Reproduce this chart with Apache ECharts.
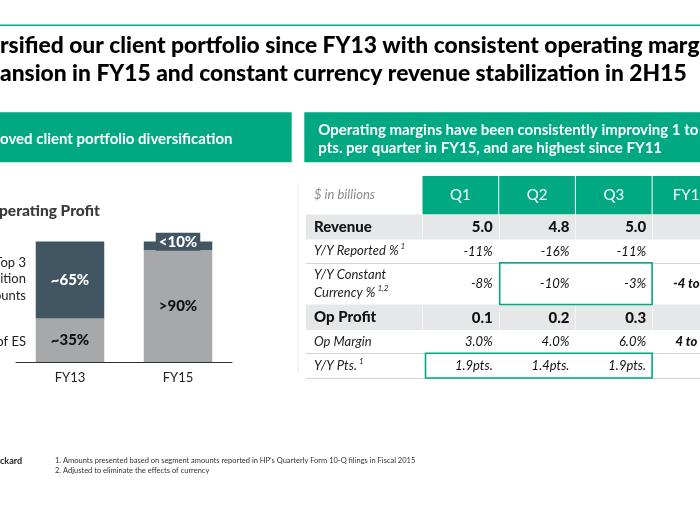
<!DOCTYPE html>
<html><head><meta charset="utf-8">
<script src="https://cdn.jsdelivr.net/npm/echarts@6/dist/echarts.min.js"></script>
<style>html,body{margin:0;padding:0;background:#fff}#c{width:700px;height:525px}</style>
</head><body><div id="c"></div>
<script>
// ---------- data ----------
const barCategories = ['FY13', 'FY15'];
const restOfESShare = [36, 93];
const top3Share = [64, 7];
const restOfESLabels = ['~35%', '>90%'];
const top3Labels = ['~65%', '<10%'];
const segmentNames = ['Top 3\nsition\nounts', 'of ES'];

const tableColumns = ['Q1', 'Q2', 'Q3', 'FY15'];
const tableRowLabels = ['$ in billions', 'Revenue', 'Y/Y Reported %', 'Y/Y Constant\nCurrency %', 'Op Profit', 'Op Margin', 'Y/Y Pts.'];
const rowFootnotes = ['', '', '1', '1,2', '', '', '1'];
const revenue = ['5.0', '4.8', '5.0', ''];
const yyReported = ['-11%', '-16%', '-11%', ''];
const yyConstantCurrency = ['-8%', '-10%', '-3%', '-4 to'];
const opProfit = ['0.1', '0.2', '0.3', ''];
const opMargin = ['3.0%', '4.0%', '6.0%', '4 to'];
const yyPts = ['1.9pts.', '1.4pts.', '1.9pts.', ''];
const tableBody = [null, revenue, yyReported, yyConstantCurrency, opProfit, opMargin, yyPts];
const highlightedCells = [[3, 1, 2], [6, 0, 2]]; // row, first column, last column

// ---------- layout / style ----------
const FONT = 'Lato';
const TEAL = '#01a982';
const SLATE = '#425563';
const BARGRAY = '#a7a8aa';
const ROWGRAY = '#e6e7e8';
const ROW_EDGES = [0, 38.5, 63.5, 86.7, 128.5, 154, 177.3, 202];
const ROW_KIND = ['header', 'bold', 'italic', 'italic', 'bold', 'italic', 'italic'];
const LABEL_COL = 116;

const chart = echarts.init(document.getElementById('c'), null, { renderer: 'canvas' });

function rowRender(params, api) {
  const i = params.dataIndex;
  const cs = params.coordSys;
  const bw = api.size([1, 0])[0];
  const top = api.coord([0, ROW_EDGES[i]])[1];
  const bot = api.coord([0, ROW_EDGES[i + 1]])[1];
  const left = cs.x - LABEL_COL;
  const right = cs.x + cs.width;
  const kind = ROW_KIND[i];
  const ch = [];
  if (kind === 'bold') {
    ch.push({ type: 'rect', shape: { x: left, y: top, width: right - left, height: bot - top }, style: { fill: ROWGRAY } });
    for (let c = 0; c < tableColumns.length; c++) {
      const x = Math.round(cs.x + c * bw) + 0.5;
      ch.push({ type: 'line', shape: { x1: x, y1: top, x2: x, y2: bot }, style: { stroke: '#f4f4f4', lineWidth: 1 } });
    }
  }
  if (kind === 'header') {
    for (let c = 0; c < tableColumns.length; c++) {
      const x0 = cs.x + c * bw;
      ch.push({ type: 'rect', shape: { x: x0 + 0.5, y: top, width: bw - 1, height: bot - top }, style: { fill: TEAL } });
      ch.push({ type: 'text', x: x0 + bw / 2, y: (top + bot) / 2, style: { text: tableColumns[c], fill: '#fff', font: '15px ' + FONT, align: 'center', verticalAlign: 'middle' } });
    }
  }
  const next = ROW_KIND[i + 1];
  if (kind === 'italic' && next !== 'bold') {
    ch.push({ type: 'line', shape: { x1: left, y1: Math.round(bot) + 0.5, x2: right, y2: Math.round(bot) + 0.5 }, style: { stroke: '#d4d4d4', lineWidth: 1 } });
  }
  const lbl = tableRowLabels[i];
  let text;
  if (kind === 'header') {
    text = '{h|' + lbl + '}';
  } else if (kind === 'bold') {
    text = '{b|' + lbl + '}';
  } else {
    const lines = lbl.split('\n');
    text = lines.map((l, k) => '{i|' + l + '}' + (k === lines.length - 1 && rowFootnotes[i] ? '{s|' + rowFootnotes[i] + '}' : '')).join('\n');
  }
  ch.push({
    type: 'text', x: cs.x - 108, y: (top + bot) / 2,
    style: {
      text: text, align: 'left', verticalAlign: 'middle',
      rich: {
        h: { font: 'italic 13px ' + FONT, fill: '#8a8a8a' },
        b: { font: '900 15px ' + FONT, fill: '#111' },
        i: { font: 'italic 13px ' + FONT, fill: '#222', lineHeight: 18 },
        s: { font: 'italic 8px ' + FONT, fill: '#222', padding: [0, 0, 9, 2], lineHeight: 18 }
      }
    }
  });
  return { type: 'group', children: ch };
}

function cellRender(params, api) {
  const c = api.value(0);
  const r = api.value(1);
  const bw = api.size([1, 0])[0];
  const cx = api.coord([c, 0])[0];
  const top = api.coord([0, ROW_EDGES[r]])[1];
  const bot = api.coord([0, ROW_EDGES[r + 1]])[1];
  const kind = ROW_KIND[r];
  const txt = tableBody[r][c];
  const last = c === tableColumns.length - 1;
  return {
    type: 'text', x: last ? cx - 4 : cx + bw / 2 - 6, y: (top + bot) / 2 + 0.5,
    style: {
      text: txt, align: last ? 'center' : 'right', verticalAlign: 'middle',
      font: last ? 'italic 900 13px ' + FONT : (kind === 'bold' ? '900 15px ' + FONT : 'italic 13px ' + FONT),
      fill: '#111'
    }
  };
}

function boxRender(params, api) {
  const d = highlightedCells[params.dataIndex];
  const bw = api.size([1, 0])[0];
  const x0 = api.coord([d[1], 0])[0] - bw / 2;
  const x1 = api.coord([d[2], 0])[0] + bw / 2;
  const top = api.coord([0, ROW_EDGES[d[0]]])[1];
  const bot = api.coord([0, ROW_EDGES[d[0] + 1]])[1];
  const inset = d[1] === 0 ? 3.5 : 1;
  return { type: 'rect', shape: { x: x0 + inset, y: top, width: x1 - x0 - inset, height: bot - top }, style: { fill: null, stroke: TEAL, lineWidth: 1.6 } };
}

const cellData = [];
for (let r = 1; r < tableBody.length; r++) for (let c = 0; c < tableColumns.length; c++) cellData.push([c, r]);

const option = {
  backgroundColor: '#fff',
  animation: false,
  textStyle: { fontFamily: FONT },
  grid: [
    { left: 16, top: 241.5, width: 216, height: 120.5, outerBoundsMode: 'none', containLabel: false },
    { left: 422, top: 176, width: 306.8, height: 202, outerBoundsMode: 'none', containLabel: false }
  ],
  xAxis: [
    { gridIndex: 0, type: 'category', data: barCategories,
      axisLine: { lineStyle: { color: '#333', width: 1 } }, axisTick: { show: false },
      axisLabel: { color: '#222', fontSize: 13, margin: 9, fontFamily: FONT } },
    { gridIndex: 1, type: 'category', data: tableColumns, show: false }
  ],
  yAxis: [
    { gridIndex: 0, type: 'value', min: 0, max: 100, show: false },
    { gridIndex: 1, type: 'value', min: 0, max: 202, inverse: true, show: false }
  ],
  series: [
    { name: segmentNames[1], type: 'bar', stack: 'p', xAxisIndex: 0, yAxisIndex: 0, barWidth: 68.5,
      data: restOfESShare, itemStyle: { color: BARGRAY },
      label: { show: true, position: 'inside', formatter: p => restOfESLabels[p.dataIndex], color: '#111', fontWeight: 900, fontSize: 15, fontFamily: FONT } },
    { name: segmentNames[0], type: 'bar', stack: 'p', xAxisIndex: 0, yAxisIndex: 0, barWidth: 68.5,
      data: top3Share.map((v, i) => ({
        value: v,
        label: i === 1 ? { backgroundColor: SLATE, padding: [2, 3, 1, 3], offset: [0, -4] } : {}
      })),
      itemStyle: { color: SLATE },
      label: { show: true, position: 'inside', formatter: p => top3Labels[p.dataIndex], color: '#fff', fontWeight: 900, fontSize: 15, fontFamily: FONT } },
    { type: 'custom', xAxisIndex: 1, yAxisIndex: 1, clip: false, renderItem: rowRender, data: tableRowLabels.map((l, i) => [0, i]), z: 1 },
    { type: 'custom', xAxisIndex: 1, yAxisIndex: 1, clip: false, renderItem: cellRender, data: cellData, z: 2 },
    { type: 'custom', xAxisIndex: 1, yAxisIndex: 1, clip: false, renderItem: boxRender, data: highlightedCells.map(d => [d[1], d[0]]), z: 3 }
  ],
  graphic: [
    { type: 'rect', shape: { x: 0, y: 24.5, width: 700, height: 1.5 }, style: { fill: TEAL } },
    { type: 'text', x: 0, y: 46, style: { text: 'rsified our client portfolio since FY13 with consistent operating marg', font: '900 22.8px ' + FONT, fill: '#000', verticalAlign: 'middle' } },
    { type: 'text', x: 0, y: 73.5, style: { text: 'ansion in FY15 and constant currency revenue stabilization in 2H15', font: '900 22.8px ' + FONT, fill: '#000', verticalAlign: 'middle' } },
    { type: 'rect', shape: { x: 0, y: 112.3, width: 291.7, height: 50 }, style: { fill: TEAL } },
    { type: 'rect', shape: { x: 304.3, y: 112.3, width: 400, height: 50 }, style: { fill: TEAL } },
    { type: 'text', x: 0, y: 139.3, style: { text: 'oved client portfolio diversification', font: 'bold 15px ' + FONT, fill: '#fff', verticalAlign: 'middle' } },
    { type: 'text', x: 318.3, y: 130, style: { text: 'Operating margins have been consistently improving 1 to', font: 'bold 15px ' + FONT, fill: '#fff', verticalAlign: 'middle' } },
    { type: 'text', x: 318.3, y: 148.5, style: { text: 'pts. per quarter in FY15, and are highest since FY11', font: 'bold 15px ' + FONT, fill: '#fff', verticalAlign: 'middle' } },
    { type: 'text', x: -1, y: 211, style: { text: 'perating Profit', font: '900 15.5px ' + FONT, fill: '#3a3a3a', verticalAlign: 'middle' } },
    { type: 'text', x: 26, y: 279, style: { text: segmentNames[0], font: '13px ' + FONT, fill: '#222', align: 'right', verticalAlign: 'middle', lineHeight: 16.5 } },
    { type: 'text', x: 26, y: 342, style: { text: segmentNames[1], font: '13px ' + FONT, fill: '#222', align: 'right', verticalAlign: 'middle' } },
    { type: 'rect', shape: { x: 297.5, y: 183, width: 1, height: 190 }, style: { fill: '#ececec' } },
    { type: 'text', x: 0, y: 461, style: { text: 'ckard', font: 'bold 9px ' + FONT, fill: '#222', verticalAlign: 'middle' } },
    { type: 'text', x: 55, y: 461, style: { text: "1. Amounts presented based on segment amounts reported in HP's Quarterly Form 10-Q filings in Fiscal 2015", font: '7.5px ' + FONT, fill: '#333', verticalAlign: 'middle' } },
    { type: 'text', x: 55, y: 471, style: { text: '2. Adjusted to eliminate the effects of currency', font: '7.5px ' + FONT, fill: '#333', verticalAlign: 'middle' } }
  ]
};
chart.setOption(option);
</script>
</body></html>
